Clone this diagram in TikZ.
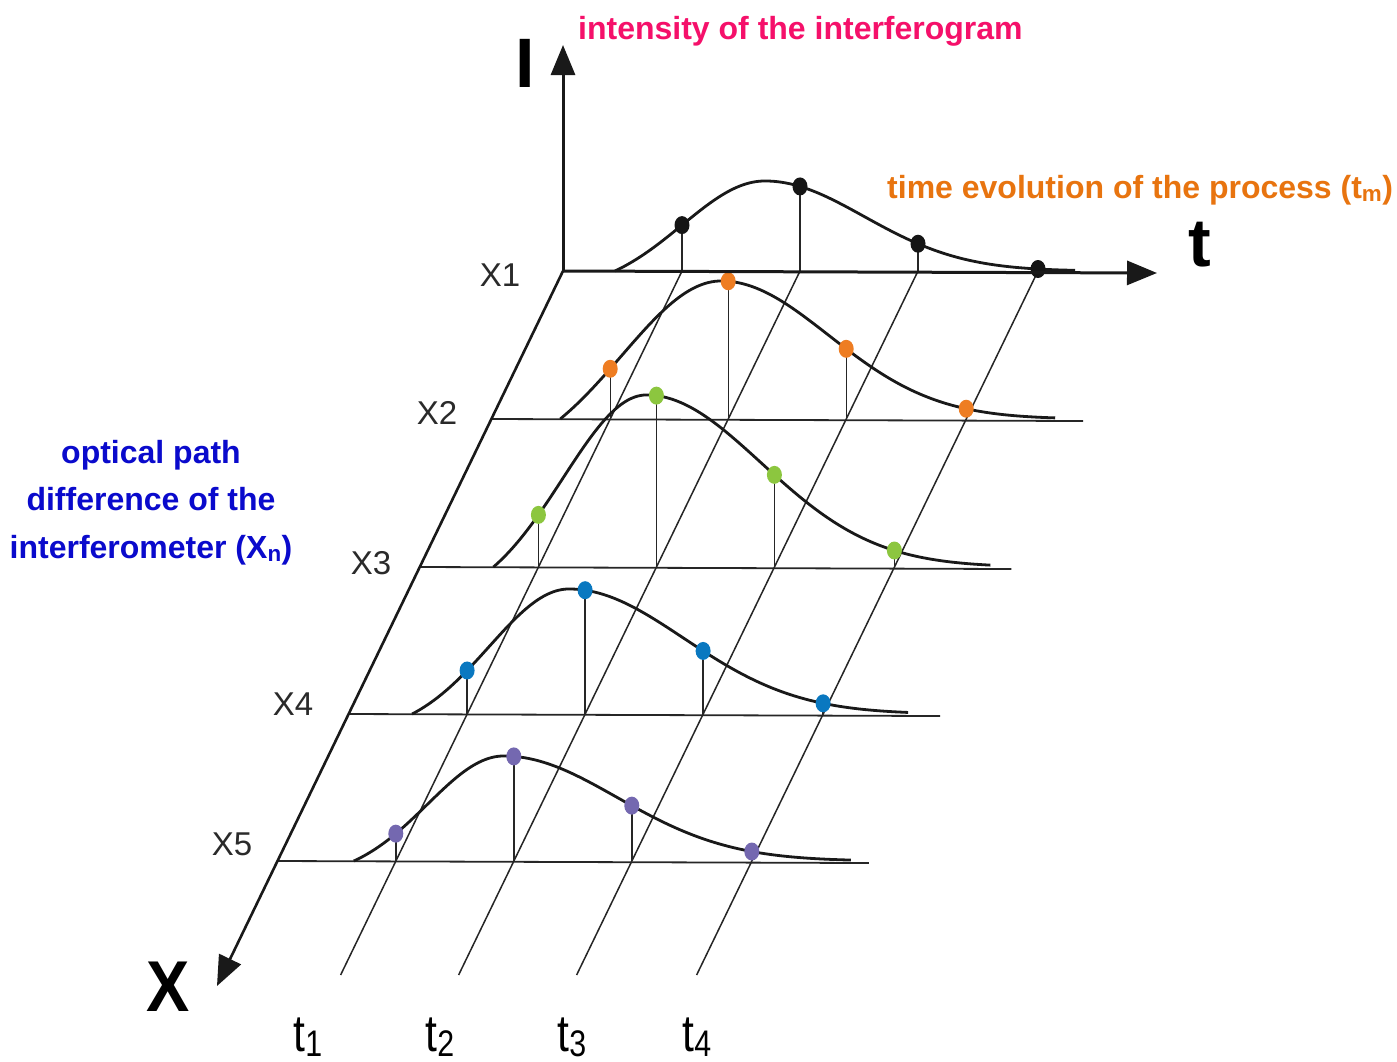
\documentclass[tikz,border=0pt]{standalone}
\usepackage{fontspec}
\setmainfont{Liberation Sans}
\newfontfamily\narrowfont{Liberation Sans}[FakeStretch=0.82]
\newfontfamily\narrowbold{Liberation Sans Bold}[FakeStretch=0.9]
\usetikzlibrary{arrows.meta}
\definecolor{cpink}{HTML}{F5106A}
\definecolor{corange}{HTML}{E8740F}
\definecolor{cblue}{HTML}{0A0ACC}
\definecolor{dblack}{HTML}{151515}
\definecolor{dorange}{HTML}{EE7D22}
\definecolor{dgreen}{HTML}{8CC63F}
\definecolor{dblue}{HTML}{0A78C0}
\definecolor{dpurple}{HTML}{7468B0}
\definecolor{lblgray}{HTML}{2A2A2A}
\tikzset{
  axisline/.style={line width=3pt,draw=black!90},
  rowline/.style={line width=1.8pt,draw=black!85},
  tline/.style={line width=1.5pt,draw=black!85},
  stem/.style={line width=1.4pt,draw=black!85},
  curve/.style={line width=2.8pt,draw=black!90},
  bigtip/.style={-{Triangle[length=30pt,width=24pt]}},
  xlbl/.style={font=\fontsize{33}{36}\selectfont,text=lblgray,inner sep=0pt},
  tlbl/.style={font=\narrowfont\fontsize{52}{56}\selectfont,inner sep=0pt,anchor=base},
  headpink/.style={font=\bfseries\fontsize{32}{36}\selectfont,text=cpink,inner sep=0pt,anchor=base west},
  headorange/.style={font=\bfseries\fontsize{32}{36}\selectfont,text=corange,inner sep=0pt,anchor=base west},
  headblue/.style={font=\bfseries\fontsize{32}{36}\selectfont,text=cblue,inner sep=0pt,anchor=base}
}
\newcommand\tsub[1]{\raisebox{-5pt}{\fontsize{37}{40}\selectfont #1}}
% #1 shift, #2 baseline y, #3 amplitude, #4 peak, #5 left width, #6 right width, #7 start, #8 end, #9 colour
\newcommand\drawcurverow[9]{%
  \pgfmathsetmacro\gzero{exp(-((#7-#4)/#5)*((#7-#4)/#5))}%
  \draw[curve] plot[domain=#7:#4,samples=50,smooth]
     ({\x-#1},{#2-#3*(exp(-((\x-#4)/#5)*((\x-#4)/#5))-\gzero)/(1-\gzero)})
     -- plot[domain=#4:#8,samples=70,smooth]
     ({\x-#1},{#2-#3*exp(-((\x-#4)/#6)*((\x-#4)/#6))});
  \foreach \tp in {682,800,918,1038}{%
    \pgfmathsetmacro\hh{\tp<#4 ? #3*(exp(-((\tp-#4)/#5)*((\tp-#4)/#5))-\gzero)/(1-\gzero) : #3*exp(-((\tp-#4)/#6)*((\tp-#4)/#6))}%
    \draw[stem] (\tp-#1,#2) -- (\tp-#1,#2-\hh);
    \fill[#9] (\tp-#1,#2-\hh) ellipse[x radius=7.5,y radius=9];
  }}
\begin{document}
\begin{tikzpicture}[x=1pt,y=-1pt]
\useasboundingbox (0,0) rectangle (1397,1061);
\fill[white] (0,0) rectangle (1397,1061);
% coordinates
\coordinate (O) at (563,271);
\coordinate (Itip) at (563,45);
\coordinate (Ttip) at (1157,273);
\coordinate (Xtip) at (217,986);
% slanted time lines
\foreach \tp [count=\i] in {682,800,918,1038}{
  \coordinate (ta\i) at (\tp,271);
  \coordinate (tb\i) at (\tp-341.4,975);
  \draw[tline] (ta\i) -- (tb\i);
}
% row lines
\foreach \s/\yb [count=\i from 2] in {71.8/419,143.6/567,214.9/714,286.2/861}{
  \coordinate (ra\i) at (563-\s,\yb);
  \coordinate (rb\i) at (563-\s+592,\yb+2);
  \draw[rowline] (ra\i) -- (rb\i);
}
% curves and samples
\drawcurverow{0}{271}{90}{765}{117}{140}{615}{1075}{dblack}
\drawcurverow{71.8}{419}{138}{793}{140}{152}{632}{1127}{dorange}
\drawcurverow{143.6}{567}{172}{790}{118}{162}{637}{1134}{dgreen}
\drawcurverow{214.9}{714}{125}{784}{113}{162}{627}{1123}{dblue}
\drawcurverow{286.2}{861}{105}{790}{108}{160}{640}{1137}{dpurple}
% axes
\draw[axisline,bigtip] (O) -- (Itip);
\draw[axisline,bigtip] (O) -- (Ttip);
\draw[axisline,line width=2.6pt,bigtip] (O) -- (Xtip);
% axis letters
\node[font=\bfseries\fontsize{70}{72}\selectfont,inner sep=0pt] (bigI) at (525,63) {I};
\node[font=\bfseries\fontsize{68}{72}\selectfont,inner sep=0pt] (bigT) at (1200,245) {t};
\node[font=\narrowbold\fontsize{72}{76}\selectfont,inner sep=0pt] (bigX) at (168,987) {X};
% row labels
\node[xlbl] (x1) at (500,275) {X1};
\node[xlbl] (x2) at (437,413) {X2};
\node[xlbl] (x3) at (371,563) {X3};
\node[xlbl] (x4) at (293,704) {X4};
\node[xlbl] (x5) at (232,844) {X5};
% time labels
\node[tlbl] (l1) at (308,1051) {t\tsub{1}};
\node[tlbl] (l2) at (440,1051) {t\tsub{2}};
\node[tlbl] (l3) at (572,1051) {t\tsub{3}};
\node[tlbl] (l4) at (697,1051) {t\tsub{4}};
% headings
\node[headpink] (hI) at (578,39) {intensity of the interferogram};
\node[headorange] (hT) at (887,198) {time evolution of the process (t\textsubscript{m})};
\node[headblue] (hX1) at (151,463) {optical path};
\node[headblue] (hX2) at (151,510) {difference of the};
\node[headblue] (hX3) at (151,558) {interferometer (X\textsubscript{n})};
\end{tikzpicture}
\end{document}
